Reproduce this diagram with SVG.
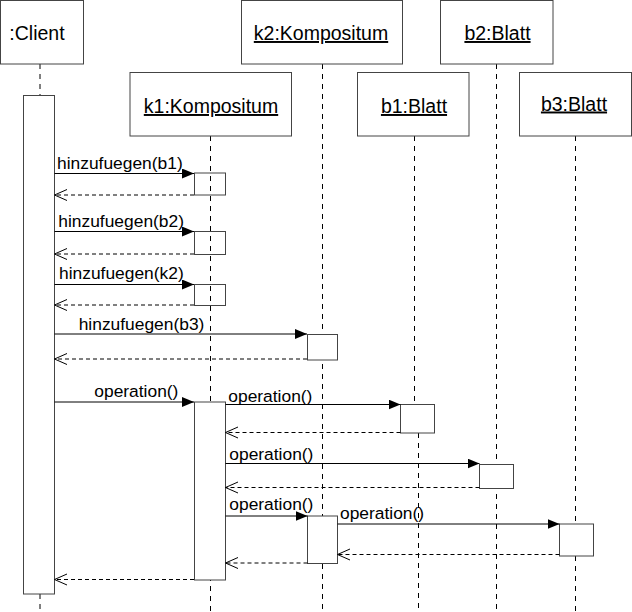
<svg xmlns="http://www.w3.org/2000/svg" width="632" height="612" viewBox="0 0 632 612">
<defs>
<style>
.hdr{fill:#fff;stroke:#444;stroke-width:1}
.ht{font-family:"Liberation Sans",Arial,sans-serif;font-size:19.5px;fill:#000;text-anchor:middle}
.u{text-decoration:underline}
.life{stroke:#000;stroke-width:1;stroke-dasharray:5,5;fill:none}
.act{fill:#fff;stroke:#444;stroke-width:1}
.acto{fill:none;stroke:#444;stroke-width:1}
.msg{stroke:#000;stroke-width:1;fill:none;marker-end:url(#fill)}
.ret{stroke:#000;stroke-width:1;fill:none;stroke-dasharray:4,3;marker-end:url(#open)}
.lbl{font-family:"Liberation Sans",Arial,sans-serif;font-size:17.4px;fill:#000}
</style>
<marker id="fill" markerUnits="userSpaceOnUse" markerWidth="14" markerHeight="12" refX="12" refY="5" orient="auto">
<path d="M0,0 L12,5 L0,10 z" fill="#000"/>
</marker>
<marker id="open" markerUnits="userSpaceOnUse" markerWidth="15" markerHeight="14" refX="13" refY="6" orient="auto">
<path d="M0.5,0.5 L13,6 L0.5,11.5" fill="none" stroke="#000" stroke-width="1"/>
</marker>
</defs>
<rect width="632" height="612" fill="#fff"/>

<g id="lifelines">
<line class="life" x1="40" y1="64" x2="40" y2="95"/>
<line class="life" x1="40" y1="594" x2="40" y2="612"/>
<line class="life" x1="210.5" y1="136" x2="210.5" y2="612"/>
<line class="life" x1="322.5" y1="64" x2="322.5" y2="612"/>
<line class="life" x1="496.5" y1="64" x2="496.5" y2="612"/>
<line class="life" x1="414.5" y1="136" x2="414.5" y2="404"/>
<line class="life" x1="418.5" y1="433" x2="418.5" y2="612"/>
<line class="life" x1="575.5" y1="136" x2="575.5" y2="612"/>
</g>

<g id="client">
<rect class="hdr" x="0.5" y="0.5" width="83" height="63.5"/>
<text class="ht" x="37" y="40">:Client</text>
<rect class="act" x="23.5" y="95.5" width="31" height="498.5"/>
</g>
<g id="k2">
<rect class="hdr" x="241.5" y="0.5" width="161" height="63.5"/>
<text class="ht u" x="321" y="40">k2:Kompositum</text>
<rect class="act" x="307.5" y="334.5" width="30" height="25.5"/>
<rect class="act" x="307.5" y="516" width="30" height="47.5"/>
</g>
<g id="b2">
<rect class="hdr" x="440.5" y="0.5" width="112.5" height="63.5"/>
<text class="ht u" x="497.5" y="40">b2:Blatt</text>
<rect class="act" x="479.5" y="464.5" width="34" height="24"/>
</g>
<g id="k1">
<rect class="hdr" x="130" y="72.5" width="161.5" height="63.5"/>
<text class="ht u" x="211" y="113">k1:Kompositum</text>
<rect class="acto" x="194.5" y="173" width="31" height="22"/>
<rect class="acto" x="194.5" y="231.5" width="31" height="23"/>
<rect class="acto" x="194.5" y="284.5" width="31" height="21"/>
<rect class="act" x="194.5" y="402" width="31" height="178"/>
</g>
<g id="b1">
<rect class="hdr" x="357.5" y="72.5" width="111.5" height="63.5"/>
<text class="ht u" x="414" y="113">b1:Blatt</text>
<rect class="act" x="400.5" y="404.5" width="34" height="28.5"/>
</g>
<g id="b3">
<rect class="hdr" x="519.5" y="72.5" width="112" height="63.5"/>
<text class="ht u" x="574" y="110.5">b3:Blatt</text>
<rect class="act" x="559.5" y="524" width="34" height="32"/>
</g>

<g id="connectors">
<line class="msg" x1="54.5" y1="173.5" x2="194" y2="173.5"/>
<line class="ret" x1="194" y1="195" x2="54.5" y2="195"/>
<line class="msg" x1="54.5" y1="231.5" x2="194" y2="231.5"/>
<line class="ret" x1="194" y1="254" x2="54.5" y2="254"/>
<line class="msg" x1="54.5" y1="284.5" x2="194" y2="284.5"/>
<line class="ret" x1="194" y1="305" x2="54.5" y2="305"/>
<line class="msg" x1="54.5" y1="334" x2="307" y2="334"/>
<line class="ret" x1="307" y1="359" x2="54.5" y2="359"/>
<line class="msg" x1="54.5" y1="402" x2="194" y2="402"/>
<line class="ret" x1="194" y1="579.5" x2="54.5" y2="579.5"/>
<line class="msg" x1="225.5" y1="404.5" x2="400.5" y2="404.5"/>
<line class="ret" x1="400.5" y1="432.5" x2="225.5" y2="432.5"/>
<line class="msg" x1="225.5" y1="463.5" x2="479.5" y2="463.5"/>
<line class="ret" x1="479.5" y1="487.5" x2="225.5" y2="487.5"/>
<line class="msg" x1="225.5" y1="516" x2="307.5" y2="516"/>
<line class="ret" x1="307.5" y1="563" x2="225.5" y2="563"/>
<line class="msg" x1="337.5" y1="524" x2="559.5" y2="524"/>
<line class="ret" x1="559.5" y1="554.5" x2="337.5" y2="554.5"/>
<text class="lbl" x="57" y="169">hinzufuegen(b1)</text>
<text class="lbl" x="58.3" y="226.5">hinzufuegen(b2)</text>
<text class="lbl" x="59" y="279">hinzufuegen(k2)</text>
<text class="lbl" x="78.7" y="330">hinzufuegen(b3)</text>
<text class="lbl" x="94.3" y="397">operation()</text>
<text class="lbl" x="228.3" y="401.5">operation()</text>
<text class="lbl" x="229.3" y="460">operation()</text>
<text class="lbl" x="229.3" y="510">operation()</text>
<text class="lbl" x="340" y="519">operation()</text>
</g>
</svg>
